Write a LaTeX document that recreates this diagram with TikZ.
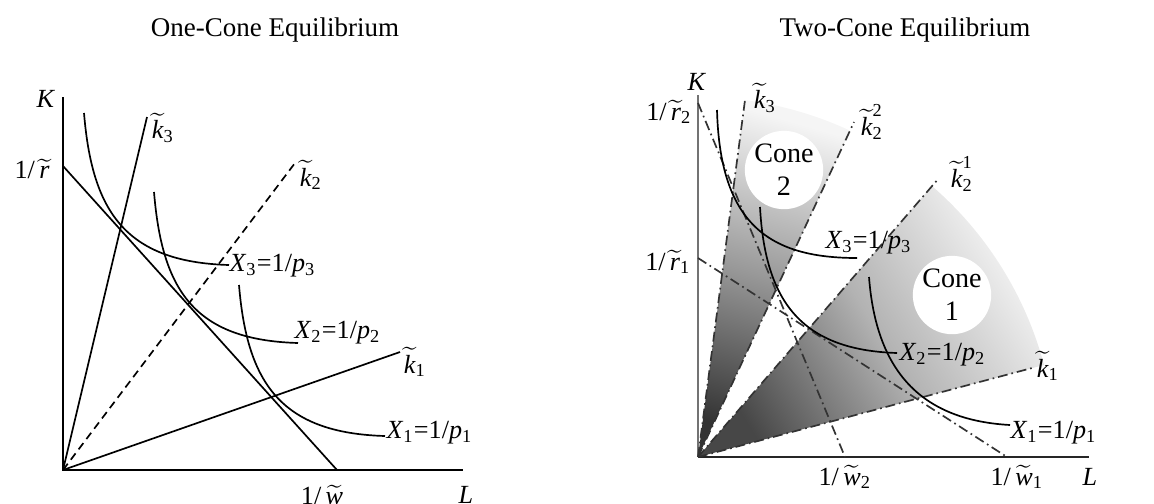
\documentclass[tikz,border=0pt]{standalone}
\usepackage{amsmath}
\usepackage{fontspec}
\setmainfont{Liberation Serif}
\usetikzlibrary{positioning}
\tikzset{
  axis/.style={line width=0.7pt},
  ray/.style={line width=0.6pt},
  dray/.style={ray,dash pattern=on 2.8pt off 1.8pt},
  ddray/.style={line width=0.6pt,black!80,dash pattern=on 3.5pt off 1.4pt on 0.6pt off 1.4pt},
  isoq/.style={line width=0.6pt},
  lbl/.style={inner sep=0pt,font=\fontsize{9.3}{11}\selectfont},
  ttl/.style={lbl,font=\fontsize{9.6}{12}\selectfont},
  conelbl/.style={circle,fill=white,minimum size=0.9cm,inner sep=0pt,align=center,font=\fontsize{10}{11.7}\selectfont},
  cone2/.style={top color=black!4,bottom color=black!80,middle color=black!40,shading angle=-16},
  cone1/.style={top color=black!4,bottom color=black!72,middle color=black!30,shading angle=-58},
}

\begin{document}
\begin{tikzpicture}[x=0.0125cm,y=-0.0125cm]
\useasboundingbox (0,0) rectangle (1154,503);

\node[ttl] (t1) at (275,30) {One-Cone Equilibrium};
\node[ttl] (t2) at (905,30) {Two-Cone Equilibrium};

% one cone
\coordinate (O1) at (63,470);
\coordinate (Ky1) at (63,97);
\coordinate (Lx1) at (463,470);
\coordinate (r1) at (63,166);
\coordinate (w1) at (337,470);
\coordinate (k3a) at (147,117);
\coordinate (k2a) at (295,163);
\coordinate (k1a) at (400,352);
\draw[axis] (Ky1) -- (O1) -- (Lx1);
\draw[ray] (r1) -- (w1);
\draw[ray] (O1) -- (k3a);
\draw[dray] (O1) -- (k2a);
\draw[ray] (O1) -- (k1a);
\draw[isoq] (84,113) .. controls +(8,97) and +(-105,-3) .. (229,265);
\draw[isoq] (154,192) .. controls +(8,97) and +(-105,-3) .. (298,343);
\draw[isoq] (239,285) .. controls +(8,97) and +(-105,-3) .. (385,436);
\node[lbl] (K1) at (46,99) {\textit{K}};
\node[lbl] (r1l) at (32,169) {1/\,$\widetilde{\textit{r}}$};
\node[lbl] (w1l) at (322,495) {1/\,$\widetilde{\textit{w}}$};
\node[lbl] (L1) at (466,495) {\textit{L}};
\node[lbl] (k3al) at (163,128) {$\widetilde{\textit{k}}_{\textrm{3}}$};
\node[lbl] (k2al) at (311,175) {$\widetilde{\textit{k}}_{\textrm{2}}$};
\node[lbl] (k1al) at (415,362) {$\widetilde{\textit{k}}_{\textrm{1}}$};
\node[lbl,anchor=west] (x3a) at (229,266) {\textit{X}\textsubscript{3}=1/\textit{p}\textsubscript{3}};
\node[lbl,anchor=west] (x2a) at (294,333) {\textit{X}\textsubscript{2}=1/\textit{p}\textsubscript{2}};
\node[lbl,anchor=west] (x1a) at (386,433) {\textit{X}\textsubscript{1}=1/\textit{p}\textsubscript{1}};

% two cones
\coordinate (O2) at (698,457);
\coordinate (Ky2) at (698,95);
\coordinate (Lx2) at (1089,457);
\coordinate (r2b) at (698,103);
\coordinate (w2b) at (845,457);
\coordinate (r1b) at (698,258);
\coordinate (w1b) at (1007,457);
\coordinate (k3b) at (745,100);
\coordinate (k22b) at (854,122);
\coordinate (k21b) at (939,178);
\coordinate (k1b) at (1032,368);
\shade[cone2] (O2) -- ++(-82.5:360) arc[start angle=-82.5,end angle=-65,radius=360] -- cycle;
\shade[cone1] (O2) -- ++(-49.2:358) arc[start angle=-49.2,end angle=-14.9,radius=358] -- cycle;
\node[conelbl] (c2) at (784,170) {Cone\\2};
\node[conelbl] (c1) at (952,295) {Cone\\1};
\draw[axis,black!55] (Ky2) -- (O2);
\draw[axis,black!85] (O2) -- (Lx2);
\draw[ddray] (r2b) -- (w2b);
\draw[ddray] (r1b) -- (w1b);
\draw[ddray] (O2) -- (k3b);
\draw[ddray] (O2) -- (k22b);
\draw[ddray] (O2) -- (k21b);
\draw[ddray] (O2) -- (k1b);
\draw[isoq] (717,110) .. controls (720,225) and (770,258) .. (857,258);
\draw[isoq] (760,207) .. controls (765,300) and (800,350) .. (897,353);
\draw[isoq] (869,277) .. controls (876,370) and (920,420) .. (1010,425);
\node[lbl] (K2) at (697,82) {\textit{K}};
\node[lbl] (r2bl) at (669,112) {1/\,$\widetilde{\textit{r}}_{\textrm{2}}$};
\node[lbl] (r1bl) at (668,262) {1/\,$\widetilde{\textit{r}}_{\textrm{1}}$};
\node[lbl] (w2bl) at (845,477) {1/\,$\widetilde{\textit{w}}_{\textrm{2}}$};
\node[lbl] (w1bl) at (1017,477) {1/\,$\widetilde{\textit{w}}_{\textrm{1}}$};
\node[lbl] (L2) at (1090,477) {\textit{L}};
\node[lbl] (k3bl) at (765,98) {$\widetilde{\textit{k}}_{\textrm{3}}$};
\node[lbl] (k22bl) at (872,122) {$\widetilde{\textit{k}}_{\textrm{2}}^{\textrm{2}}$};
\node[lbl] (k21bl) at (962,174) {$\widetilde{\textit{k}}_{\textrm{2}}^{\textrm{1}}$};
\node[lbl] (k1bl) at (1048,366) {$\widetilde{\textit{k}}_{\textrm{1}}$};
\node[lbl,anchor=west] (x3b) at (825,243) {\textit{X}\textsubscript{3}=1/\textit{p}\textsubscript{3}};
\node[lbl,anchor=west] (x2b) at (899,355) {\textit{X}\textsubscript{2}=1/\textit{p}\textsubscript{2}};
\node[lbl,anchor=west] (x1b) at (1010,433) {\textit{X}\textsubscript{1}=1/\textit{p}\textsubscript{1}};
\end{tikzpicture}
\end{document}
